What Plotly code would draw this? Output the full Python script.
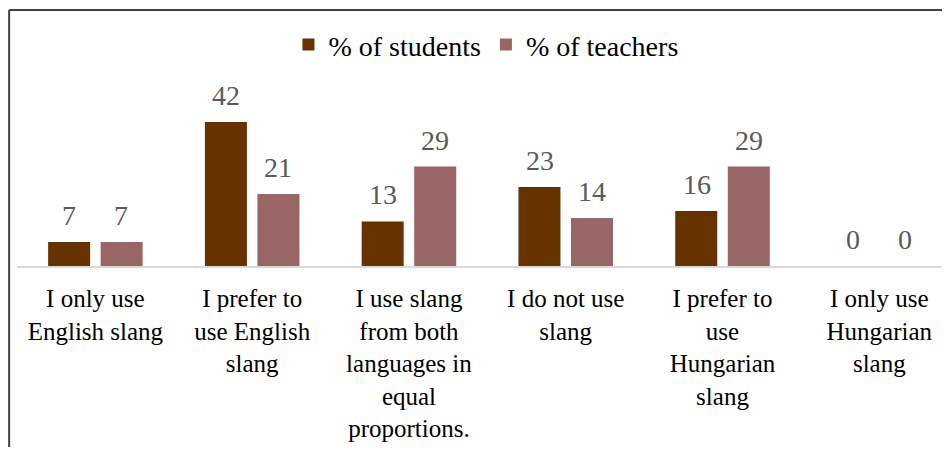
import plotly.graph_objects as go

categories = [
    "I only use<br>English slang",
    "I prefer to<br>use English<br>slang",
    "I use slang<br>from both<br>languages in<br>equal<br>proportions.",
    "I do not use<br>slang",
    "I prefer to<br>use<br>Hungarian<br>slang",
    "I only use<br>Hungarian<br>slang",
]
students = [7, 42, 13, 23, 16, 0]
teachers = [7, 21, 29, 14, 29, 0]
series_names = ["% of students", "% of teachers"]
colors = ["#663300", "#996666"]

FONT = "Liberation Serif"

fig = go.Figure()
for name, vals, col in zip(series_names, [students, teachers], colors):
    fig.add_trace(go.Bar(x=categories, y=vals, name=name, marker=dict(color=col, line=dict(width=0))))

annotations = []
for vals, shift in [(students, -26), (teachers, 26)]:
    for c, v in zip(categories, vals):
        annotations.append(dict(x=c, y=v, xref="x", yref="y", text=str(v), showarrow=False,
                                xshift=shift, yshift=9, yanchor="bottom",
                                font=dict(family=FONT, size=28, color="#595959")))

fig.update_layout(
    width=934, height=439,
    margin=dict(l=9, r=0, t=62, b=181, autoexpand=False),
    paper_bgcolor="white", plot_bgcolor="white",
    barmode="group", bargap=0.33, bargroupgap=0.2,
    font=dict(family=FONT, size=25, color="#000000"),
    showlegend=True,
    legend=dict(orientation="h", x=0.507, xanchor="center", y=1.128, yanchor="middle",
                font=dict(family=FONT, size=28, color="#000000"), itemwidth=30),
    xaxis=dict(range=[-0.5, 5.4], showline=True, linecolor="#d9d9d9", linewidth=2,
               ticks="outside", ticklen=9, tickcolor="rgba(0,0,0,0)", automargin=False,
               tickfont=dict(family=FONT, size=25, color="#000000"), showgrid=False),
    yaxis=dict(range=[0, 57.14], visible=False, showgrid=False, automargin=False),
    annotations=annotations,
    shapes=[
        dict(type="line", xref="paper", yref="paper", x0=-0.0085, x1=1.1, y0=1.306, y1=1.306,
             line=dict(color="#404040", width=2)),
        dict(type="line", xref="paper", yref="paper", x0=-0.0085, x1=-0.0085, y0=1.306, y1=-1.2,
             line=dict(color="#404040", width=2)),
    ],
)
fig.update_traces(cliponaxis=False)

fig.write_html("out.html")
